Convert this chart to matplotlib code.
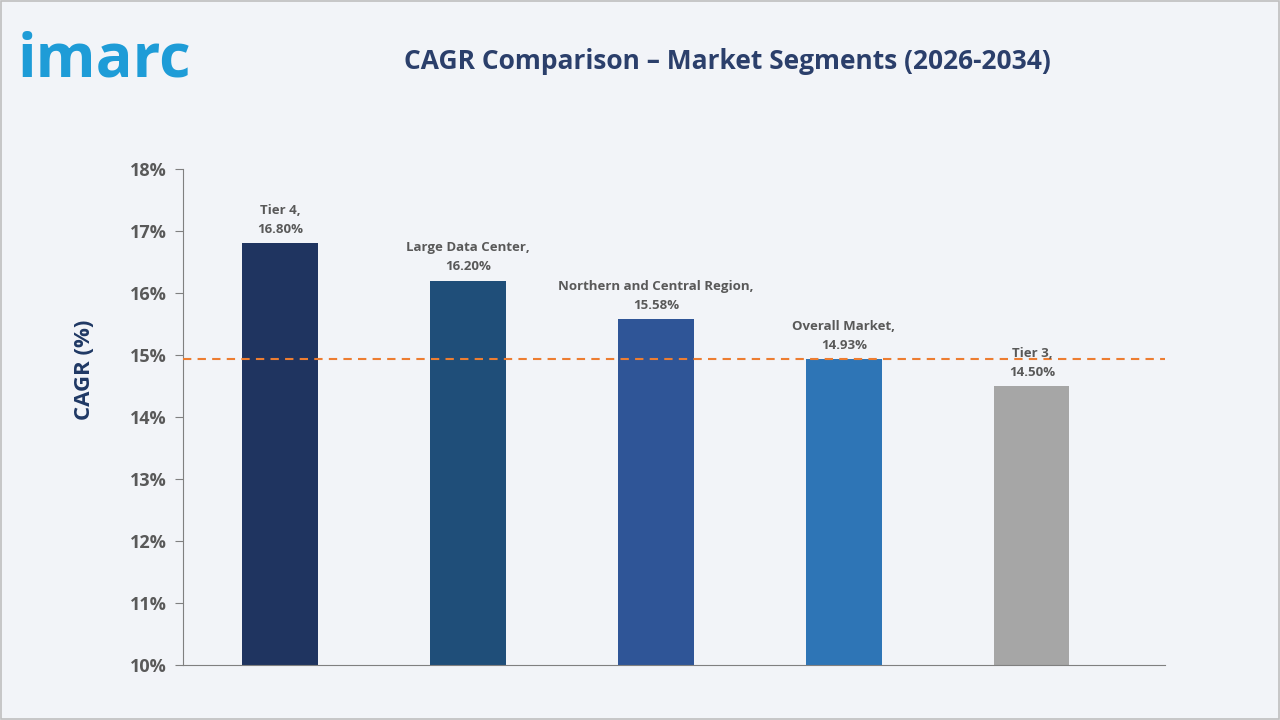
import matplotlib.pyplot as plt
from matplotlib.patches import Rectangle

categories = ['Tier 4', 'Large Data Center', 'Northern and Central Region', 'Overall Market', 'Tier 3']
cagr = [16.80, 16.20, 15.58, 14.93, 14.50]
colors = ['#1F3460', '#1F4E79', '#2F5597', '#2E75B6', '#A6A6A6']
yticks = [10, 11, 12, 13, 14, 15, 16, 17, 18]
overall = 14.93

plt.rcParams['font.family'] = ['Open Sans', 'DejaVu Sans']
fig = plt.figure(figsize=(12.8, 7.2), dpi=100)
fig.patch.set_facecolor('#F2F4F8')
fig.add_artist(Rectangle((0.001, 0.001), 0.998, 0.998, transform=fig.transFigure,
                         fill=False, edgecolor='#BFBFBF', lw=1.2))

ax = fig.add_axes([0.143, 0.0764, 0.767, 0.689])
ax.set_facecolor('none')
x = range(len(categories))
ax.bar(x, cagr, width=0.4, color=colors, zorder=2)
ax.axhline(overall, color='#ED7D31', ls=(0, (4, 3)), lw=1.5, zorder=3)
for i, (c, v) in enumerate(zip(categories, cagr)):
    ax.text(i, v + 0.12, f'{c},\n{v:.2f}%', ha='center', va='bottom',
            fontsize=9.5, color='#595959', fontweight='bold', linespacing=1.6, zorder=4)

ax.set_ylim(10, 18)
ax.set_xlim(-0.516, 4.707)
ax.set_yticks(yticks)
ax.set_yticklabels([f'{t}%' for t in yticks], fontsize=13, color='#595959', fontweight='bold')
ax.set_xticks([])
ax.tick_params(axis='y', length=6, color='#808080', pad=6)
for s in ['top', 'right']:
    ax.spines[s].set_visible(False)
ax.spines['left'].set_color('#808080')
ax.spines['bottom'].set_color('#808080')
ax.set_ylabel('CAGR (%)', fontsize=16, fontweight='bold', color='#1F3864', labelpad=18)
ax.yaxis.set_label_coords(-0.09, 0.595)

fig.text(0.568, 0.915, 'CAGR Comparison – Market Segments (2026-2034)', ha='center', va='center',
         fontsize=19, fontweight='bold', color='#2B3F6B')
fig.text(0.014, 0.915, 'imarc', ha='left', va='center', fontsize=44, fontweight='bold', color='#1E9CD7')

fig.savefig('out.png', dpi=100, facecolor=fig.get_facecolor())
